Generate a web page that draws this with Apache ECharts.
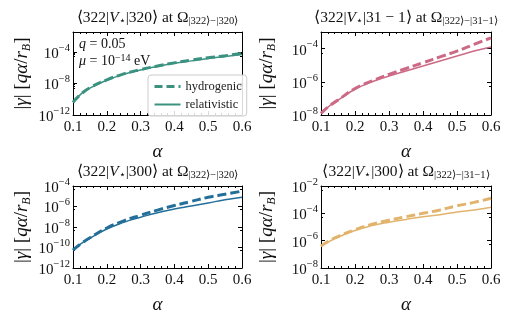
<!DOCTYPE html>
<html><head><meta charset="utf-8">
<script src="https://cdn.jsdelivr.net/npm/echarts@6/dist/echarts.min.js"></script>
<style>html,body{margin:0;padding:0;background:#fff}#c{width:515px;height:322px}</style>
</head><body><div id="c"></div>
<script>
// ---- data ----
const alpha = [0.1, 0.125, 0.15, 0.2, 0.25, 0.3, 0.35, 0.4, 0.45, 0.5, 0.55, 0.6];
const xTicks = [0.1, 0.2, 0.3, 0.4, 0.5, 0.6];

// panel 1: <322|V|320> at Omega_{322-320}
const p1Hydrogenic   = [4.0e-11, 5.0e-10, 2.82e-9, 2.82e-8, 1.58e-7, 5.62e-7, 1.58e-6, 3.98e-6, 8.91e-6, 1.78e-5, 3.16e-5, 6.31e-5];
const p1Relativistic = [4.0e-11, 5.0e-10, 2.5e-9, 2.5e-8, 1.41e-7, 5.0e-7, 1.41e-6, 3.55e-6, 7.08e-6, 1.41e-5, 2.51e-5, 4.47e-5];
// panel 2: <322|V|31-1>
const p2Hydrogenic   = [1.26e-8, 3.55e-8, 7.94e-8, 3.98e-7, 1.12e-6, 2.82e-6, 6.31e-6, 1.41e-5, 3.16e-5, 7.08e-5, 1.78e-4, 4.47e-4];
const p2Relativistic = [1.26e-8, 3.55e-8, 7.94e-8, 3.55e-7, 1.0e-6, 2.24e-6, 4.47e-6, 8.91e-6, 1.78e-5, 3.55e-5, 7.08e-5, 1.26e-4];
// panel 3: <322|V|300> at Omega_{322-320}
const p3Hydrogenic   = [5.62e-11, 2.51e-10, 8.91e-10, 7.94e-9, 3.98e-8, 1.41e-7, 4.47e-7, 1.26e-6, 3.16e-6, 7.94e-6, 1.58e-5, 3.16e-5];
const p3Relativistic = [5.62e-11, 2.51e-10, 7.94e-10, 6.31e-9, 2.82e-8, 8.91e-8, 2.51e-7, 5.62e-7, 1.12e-6, 2.24e-6, 4.47e-6, 7.94e-6];
// panel 4: <322|V|300> at Omega_{322-31-1}
const p4Hydrogenic   = [3.98e-7, 1.0e-6, 2.0e-6, 6.31e-6, 1.58e-5, 3.16e-5, 5.62e-5, 1.0e-4, 1.78e-4, 3.55e-4, 6.31e-4, 1.26e-3];
const p4Relativistic = [3.98e-7, 8.91e-7, 1.78e-6, 5.62e-6, 1.26e-5, 2.24e-5, 3.55e-5, 5.62e-5, 7.94e-5, 1.26e-4, 1.78e-4, 2.82e-4];

// y tick exponents per panel
const p1YTicks = [-12, -8, -4];
const p2YTicks = [-8, -6, -4];
const p3YTicks = [-12, -10, -8, -6, -4];
const p4YTicks = [-8, -6, -4, -2];

const colors = ['#3b9281', '#cc6a86', '#246f9a', '#e2b36c'];

const panels = [
  {hyd: p1Hydrogenic, rel: p1Relativistic, yMin: 1e-12, yMax: 3.2e-2, yInt: 4, yMinor: 4, yTicks: p1YTicks,
   title: '⟨322|{it|V}{sub|⋆}|320⟩ at Ω{sub||322⟩−|320⟩}', grid: {left: 73, top: 32, width: 169, height: 83}},
  {hyd: p2Hydrogenic, rel: p2Relativistic, yMin: 1e-8, yMax: 1e-3, yInt: 2, yMinor: 2, yTicks: p2YTicks,
   title: '⟨322|{it|V}{sub|⋆}|31 − 1⟩ at Ω{sub||322⟩−|31−1⟩}', grid: {left: 321, top: 32, width: 170, height: 83}},
  {hyd: p3Hydrogenic, rel: p3Relativistic, yMin: 1e-12, yMax: 1e-4, yInt: 2, yMinor: 2, yTicks: p3YTicks,
   title: '⟨322|{it|V}{sub|⋆}|300⟩ at Ω{sub||322⟩−|320⟩}', grid: {left: 73, top: 186, width: 169, height: 82}},
  {hyd: p4Hydrogenic, rel: p4Relativistic, yMin: 1e-8, yMax: 1e-2, yInt: 2, yMinor: 2, yTicks: p4YTicks,
   title: '⟨322|{it|V}{sub|⋆}|300⟩ at Ω{sub||322⟩−|31−1⟩}', grid: {left: 321, top: 186, width: 170, height: 82}}
];

const FONT = 'Liberation Serif';
const richTitle = {
  it: {fontStyle: 'italic', fontFamily: FONT, fontSize: 15.5, lineHeight: 18, color: '#111'},
  sub: {fontFamily: FONT, fontSize: 10.5, lineHeight: 9, verticalAlign: 'bottom', color: '#111'},
  sup: {fontFamily: FONT, fontSize: 10, lineHeight: 10, verticalAlign: 'top', color: '#111'}
};
const richNote = {
  it: {fontStyle: 'italic', fontFamily: FONT, fontSize: 14, lineHeight: 17, color: '#111'},
  sup: {fontFamily: FONT, fontSize: 10, lineHeight: 10, verticalAlign: 'top', color: '#111'}
};

const chart = echarts.init(document.getElementById('c'), null, {renderer: 'canvas'});
const option = {
  backgroundColor: '#fff',
  animation: false,
  grid: [], xAxis: [], yAxis: [], series: [], title: []
};

panels.forEach((p, i) => {
  option.grid.push(Object.assign({containLabel: false}, p.grid));
  const xCommon = {
    type: 'value', gridIndex: i, min: 0.1, max: 0.6, interval: 0.1,
    splitLine: {show: false},
    axisLine: {show: true, onZero: false, lineStyle: {color: '#000', width: 1}},
    axisTick: {show: true, inside: true, length: 4, lineStyle: {color: '#000'}},
    minorTick: {show: true, splitNumber: 5, length: 2, lineStyle: {color: '#000'}}
  };
  option.xAxis.push(Object.assign({}, xCommon, {
    position: 'bottom',
    name: 'α', nameLocation: 'middle', nameGap: 27,
    nameTextStyle: {fontFamily: FONT, fontStyle: 'italic', fontSize: 19, color: '#111'},
    axisLabel: {show: true, margin: 5, fontFamily: FONT, fontSize: 15, color: '#111',
      formatter: v => v.toFixed(1)}
  }));
  option.xAxis.push(Object.assign({}, xCommon, {position: 'top', axisLabel: {show: false}}));

  const yCommon = {
    type: 'log', logBase: 10, gridIndex: i, min: p.yMin, max: p.yMax, interval: p.yInt,
    splitLine: {show: false},
    axisLine: {show: true, onZero: false, lineStyle: {color: '#000', width: 1}},
    axisTick: {show: true, inside: true, length: 4, lineStyle: {color: '#000'}},
    minorTick: {show: true, splitNumber: p.yMinor, length: 2, lineStyle: {color: '#000'}}
  };
  option.yAxis.push(Object.assign({}, yCommon, {
    position: 'left',
    name: '|{it|γ}| [{it|qα}/{it|r}{sub|B}]', nameLocation: 'middle', nameRotate: 90,
    nameGap: i % 2 === 0 ? 40 : 43,
    nameTextStyle: {fontFamily: FONT, fontSize: 19, lineHeight: 22, color: '#111',
      rich: {it: {fontFamily: FONT, fontStyle: 'italic', fontSize: 19, lineHeight: 22, color: '#111'},
             sub: {fontFamily: FONT, fontStyle: 'italic', fontSize: 12, lineHeight: 11, verticalAlign: 'bottom', color: '#111'}}},
    axisLabel: {show: true, margin: 3, fontFamily: FONT, fontSize: 15, color: '#111',
      showMinLabel: true, showMaxLabel: true,
      rich: {b: {fontFamily: FONT, fontSize: 15, lineHeight: 19, verticalAlign: 'bottom', color: '#111'},
             sup: {fontFamily: FONT, fontSize: 10.5, lineHeight: 11, verticalAlign: 'top', color: '#111'}},
      formatter: v => {
        const l = Math.log10(v);
        const e = Math.round(l);
        if (Math.abs(l - e) > 0.02 || p.yTicks.indexOf(e) < 0) return '';
        return '{b|10}{sup|−' + Math.abs(e) + '}';
      }}
  }));
  option.yAxis.push(Object.assign({}, yCommon, {position: 'right', axisLabel: {show: false}}));

  const c = colors[i];
  option.series.push({
    type: 'line', name: 'hydrogenic', xAxisIndex: 2 * i, yAxisIndex: 2 * i,
    data: alpha.map((a, k) => [a, p.hyd[k]]), smooth: true, showSymbol: false, symbol: 'none',
    lineStyle: {color: c, width: 3, type: [9, 4]}, itemStyle: {color: c}, z: 3
  });
  option.series.push({
    type: 'line', name: 'relativistic', xAxisIndex: 2 * i, yAxisIndex: 2 * i,
    data: alpha.map((a, k) => [a, p.rel[k]]), smooth: true, showSymbol: false, symbol: 'none',
    lineStyle: {color: c, width: 1.5, type: 'solid'}, itemStyle: {color: c}, z: 4
  });

  option.title.push({
    text: p.title, left: p.grid.left + p.grid.width / 2, top: p.grid.top - 23, textAlign: 'center',
    padding: 0,
    textStyle: {fontFamily: FONT, fontSize: 15.5, lineHeight: 18, color: '#111', fontWeight: 'normal', rich: richTitle}
  });
});

option.title.push({
  text: '{it|q} = 0.05', left: 79, top: 36, padding: 0,
  textStyle: {fontFamily: FONT, fontSize: 14, lineHeight: 17, color: '#111', fontWeight: 'normal', rich: richNote}
});
option.title.push({
  text: '{it|μ} = 10{sup|−14} eV', left: 79, top: 53, padding: 0,
  textStyle: {fontFamily: FONT, fontSize: 14, lineHeight: 17, color: '#111', fontWeight: 'normal', rich: richNote}
});

option.legend = {
  data: [
    {name: 'hydrogenic', lineStyle: {width: 3, type: [8, 4]}},
    {name: 'relativistic', lineStyle: {width: 2}}
  ],
  orient: 'vertical', left: 148, top: 75,
  itemWidth: 26, itemHeight: 10, itemGap: 5,
  itemStyle: {opacity: 0},
  textStyle: {fontFamily: FONT, fontSize: 12.5, color: '#222'},
  borderColor: '#ccc', borderWidth: 1, borderRadius: 3, padding: [5, 5, 5, 5],
  backgroundColor: 'rgba(255,255,255,0.85)', selectedMode: false
};

chart.setOption(option);
</script>
</body></html>
